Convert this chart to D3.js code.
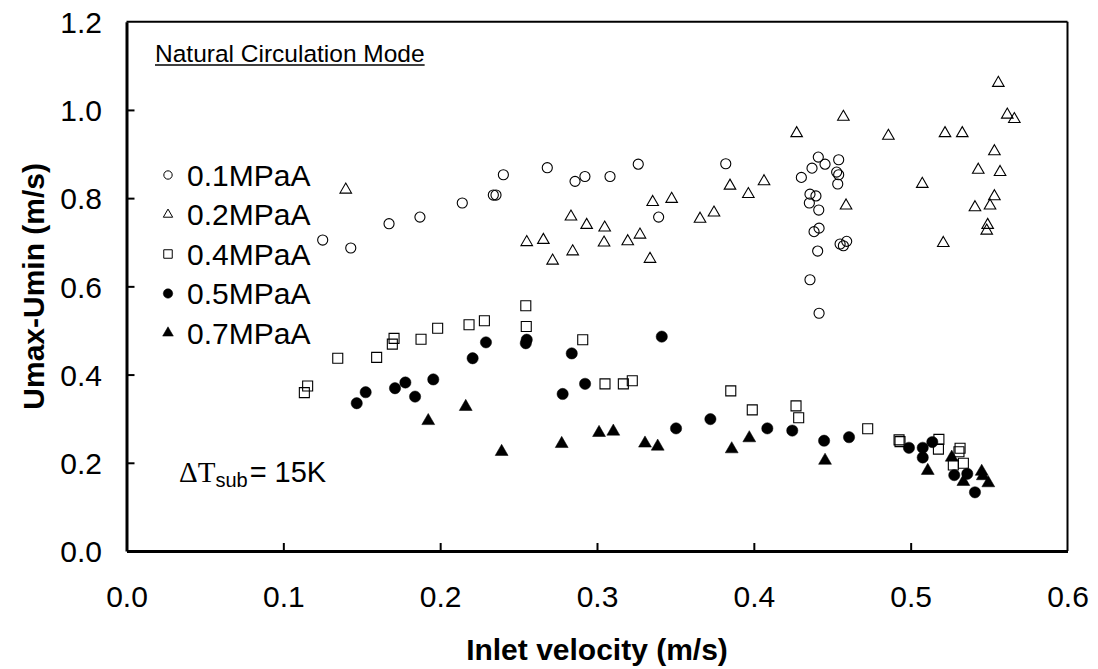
<!DOCTYPE html>
<html><head><meta charset="utf-8">
<script src="https://cdn.jsdelivr.net/npm/d3@7"></script>
<style>
html,body{margin:0;padding:0;background:#fff;}
svg{display:block;font-family:"Liberation Sans",Arial,sans-serif;}
</style></head>
<body><svg id="c" width="1098" height="669"></svg>
<script>
// ---- data ----
const xTicks = [0.0, 0.1, 0.2, 0.3, 0.4, 0.5, 0.6];
const yTicks = [0.0, 0.2, 0.4, 0.6, 0.8, 1.0, 1.2];
const seriesNames = ["0.1MPaA", "0.2MPaA", "0.4MPaA", "0.5MPaA", "0.7MPaA"];
const xLabel = "Inlet velocity (m/s)";
const yLabel = "Umax-Umin (m/s)";
const modeLabel = "Natural Circulation Mode";

const p01 = [[0.1251,0.705],[0.143,0.687],[0.1674,0.742],[0.1871,0.757],[0.2141,0.789],[0.2339,0.807],[0.2356,0.807],
  [0.2403,0.853],[0.2683,0.869],[0.286,0.838],[0.2923,0.849],[0.3083,0.849],[0.3263,0.877],[0.3393,0.757],[0.3821,0.878],
  [0.4303,0.847],[0.4371,0.868],[0.4411,0.893],[0.4454,0.877],[0.4541,0.887],[0.4528,0.859],[0.4541,0.853],[0.4535,0.832],
  [0.4358,0.809],[0.4396,0.805],[0.4354,0.789],[0.4414,0.773],[0.4384,0.724],[0.4416,0.732],[0.4407,0.680],[0.4550,0.696],
  [0.4571,0.692],[0.4592,0.702],[0.4358,0.615],[0.4416,0.539]];
const p02 = [[0.1398,0.819],[0.2552,0.700],[0.2658,0.705],[0.2717,0.658],[0.2834,0.758],[0.2845,0.679],[0.2934,0.739],
  [0.3045,0.699],[0.3049,0.733],[0.3196,0.702],[0.3274,0.717],[0.3338,0.662],[0.3355,0.791],[0.3476,0.798],[0.3657,0.753],
  [0.3746,0.767],[0.3848,0.828],[0.3965,0.809],[0.4065,0.838],[0.4273,0.947],[0.4571,0.984],[0.4588,0.783],[0.4858,0.941],
  [0.5074,0.832],[0.5208,0.698],[0.5219,0.947],[0.5329,0.947],[0.5410,0.779],[0.5431,0.864],[0.5485,0.726],[0.5491,0.739],
  [0.5506,0.783],[0.5534,0.906],[0.5534,0.804],[0.5559,1.061],[0.5570,0.859],[0.5616,0.989],[0.5661,0.979]];
const p04 = [[0.1134,0.359],[0.1155,0.374],[0.1347,0.437],[0.1595,0.439],[0.1695,0.469],[0.1706,0.482],[0.1878,0.480],
  [0.1984,0.505],[0.2184,0.513],[0.2282,0.522],[0.2546,0.556],[0.2549,0.509],[0.2909,0.479],[0.3051,0.379],[0.3168,0.379],
  [0.3225,0.386],[0.3853,0.363],[0.3990,0.320],[0.4269,0.329],[0.4286,0.302],[0.4726,0.277],[0.4926,0.252],[0.4932,0.248],
  [0.5180,0.253],[0.5177,0.231],[0.5315,0.233],[0.5308,0.225],[0.5336,0.199],[0.5272,0.195]];
const p05 = [[0.1468,0.335],[0.1525,0.360],[0.1712,0.369],[0.1778,0.382],[0.1840,0.350],[0.1956,0.389],[0.2207,0.437],
  [0.2292,0.473],[0.2546,0.471],[0.2552,0.479],[0.2781,0.356],[0.2839,0.448],[0.2924,0.379],[0.3413,0.486],[0.3504,0.278],
  [0.3723,0.299],[0.4086,0.278],[0.4245,0.273],[0.4448,0.250],[0.4607,0.258],[0.4989,0.234],[0.5077,0.234],[0.5077,0.212],
  [0.5138,0.247],[0.5278,0.172],[0.5361,0.175],[0.5410,0.133]];
const p07 = [[0.1924,0.295],[0.2163,0.327],[0.2392,0.225],[0.2775,0.243],[0.3013,0.268],[0.3104,0.271],[0.3306,0.244],
  [0.3387,0.237],[0.3859,0.231],[0.3971,0.256],[0.4454,0.205],[0.5109,0.182],[0.5262,0.212],[0.5336,0.157],[0.5453,0.180],
  [0.5460,0.170],[0.5495,0.154]];

// ---- layout ----
const svg = d3.select("#c");
const L = 126.5, R = 1067.5, T = 21.7, B = 551;
const x = d3.scaleLinear().domain([0, 0.6]).range([L, R]);
const y = d3.scaleLinear().domain([0, 1.2]).range([B, T]);

const series = [
  {data: p01, type: d3.symbolCircle,   size: 80,  fill: "none", legSize: 55},
  {data: p02, type: d3.symbolTriangle, size: 58,  fill: "none", legSize: 38},
  {data: p04, type: d3.symbolSquare,   size: 100, fill: "none", legSize: 72},
  {data: p05, type: d3.symbolCircle,   size: 100, fill: "#000", legSize: 70},
  {data: p07, type: d3.symbolTriangle, size: 72,  fill: "#000", legSize: 50}
];

// frame top/right
svg.append("line").attr("x1", L).attr("x2", R).attr("y1", T).attr("y2", T).attr("stroke", "#000").attr("stroke-width", 2);
svg.append("line").attr("x1", R).attr("x2", R).attr("y1", T).attr("y2", B).attr("stroke", "#000").attr("stroke-width", 2);

// axes
const fmt = d3.format(".1f");
const gx = svg.append("g").attr("transform", `translate(0,${B})`)
  .call(d3.axisBottom(x).tickValues(xTicks).tickFormat(fmt).tickSizeInner(-8).tickSizeOuter(0).tickPadding(35));
const gy = svg.append("g").attr("transform", `translate(${L},0)`)
  .call(d3.axisLeft(y).tickValues(yTicks).tickFormat(fmt).tickSizeInner(-8).tickSizeOuter(0).tickPadding(24.5));
[gx, gy].forEach(g => {
  g.select(".domain").attr("stroke", "#000").attr("stroke-width", 3);
  g.selectAll(".tick line").attr("stroke", "#000").attr("stroke-width", 2);
  g.selectAll(".tick text").attr("font-size", 30).attr("fill", "#000")
   .attr("font-family", '"Liberation Sans",Arial,sans-serif');
});
gy.selectAll(".tick text").attr("dy", "0.36em");
gx.selectAll(".tick line").filter(d => d === 0 || d === 0.6).remove();
gy.selectAll(".tick line").filter(d => d === 0 || d === 1.2).remove();

// titles
svg.append("text").attr("x", (L + R) / 2).attr("y", 660).attr("text-anchor", "middle")
  .attr("font-size", 30).attr("font-weight", "bold").text(xLabel);
svg.append("text").attr("transform", `translate(44,${(T + B) / 2}) rotate(-90)`).attr("text-anchor", "middle")
  .attr("font-size", 30).attr("font-weight", "bold").text(yLabel);

// mode label
const ml = svg.append("text").attr("x", 155).attr("y", 61.5).attr("font-size", 24.5).text(modeLabel);
const mw = ml.node().getComputedTextLength();
svg.append("line").attr("x1", 155).attr("x2", 155 + mw).attr("y1", 65).attr("y2", 65).attr("stroke", "#000").attr("stroke-width", 1.5);

// points
series.forEach(s => {
  svg.append("g").selectAll("path").data(s.data).join("path")
    .attr("transform", d => `translate(${x(d[0])},${y(d[1])})`)
    .attr("d", d3.symbol().type(s.type).size(s.size))
    .attr("fill", s.fill).attr("stroke", "#000").attr("stroke-width", s.fill === "none" ? 1.1 : 0.5);
});

// legend
const legY0 = 175, legDy = 39.5;
seriesNames.forEach((n, i) => {
  const s = series[i];
  const cy = legY0 + i * legDy;
  svg.append("path").attr("transform", `translate(168,${cy})`)
    .attr("d", d3.symbol().type(s.type).size(s.legSize))
    .attr("fill", s.fill).attr("stroke", "#000").attr("stroke-width", s.fill === "none" ? 1 : 0.5);
  svg.append("text").attr("x", 187).attr("y", cy + 10.7).attr("font-size", 30).text(n);
});

// delta T annotation
const dt = svg.append("text").attr("x", 179).attr("y", 481.7).attr("font-size", 29);
dt.append("tspan").attr("font-family", '"Liberation Serif","Times New Roman",serif').text("ΔT");
dt.append("tspan").attr("font-size", 20).attr("dy", 5).text("sub");
dt.append("tspan").attr("dy", -5).attr("dx", 2).text("= 15K");
</script></body></html>
